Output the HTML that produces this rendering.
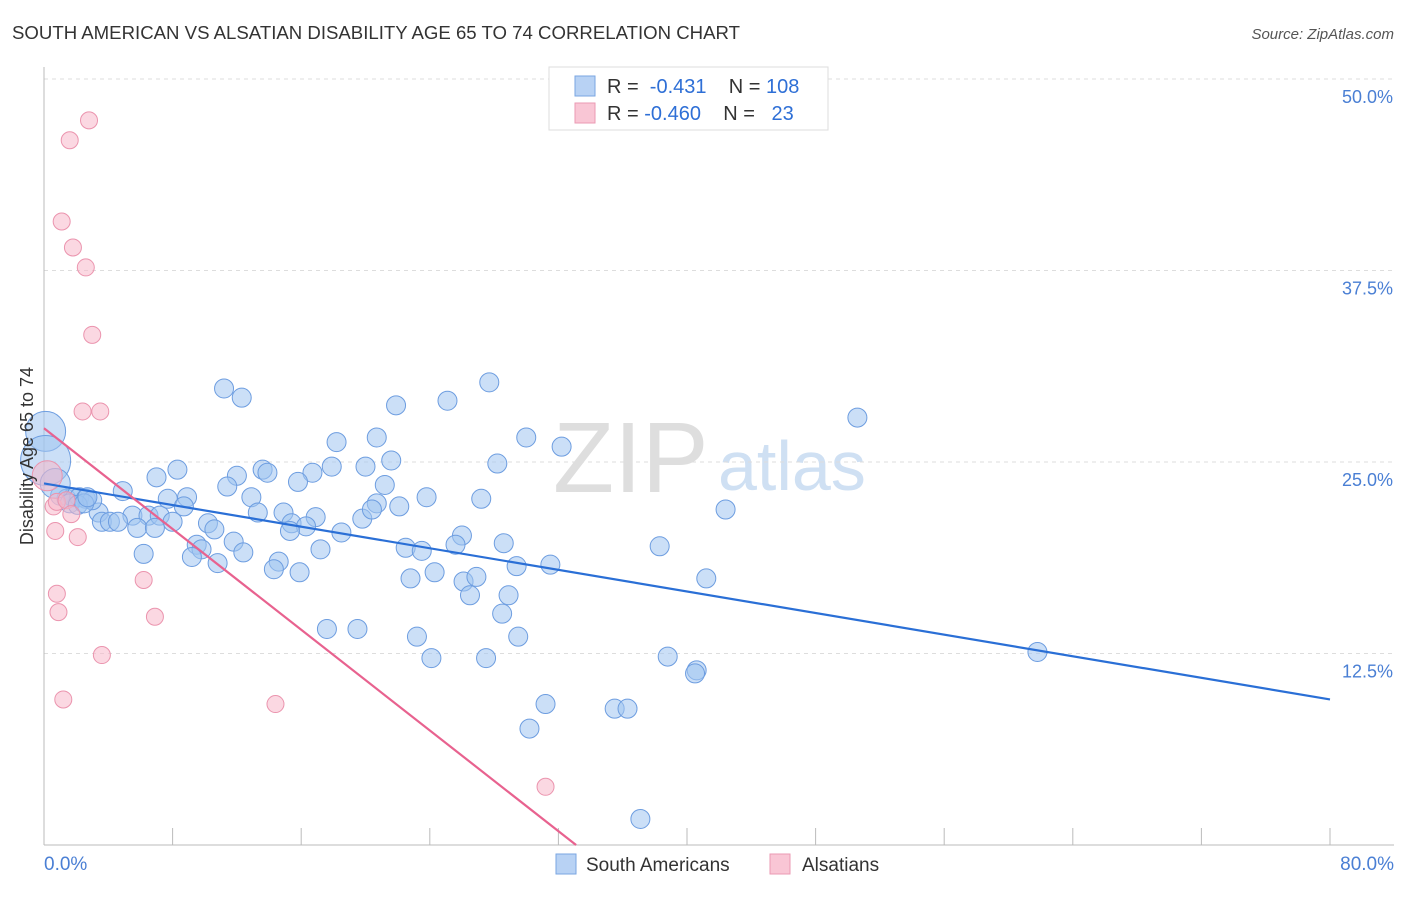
<!DOCTYPE html>
<html><head><meta charset="utf-8"><style>
body{margin:0;background:#fff;font-family:"Liberation Sans",sans-serif}
svg text{font-family:"Liberation Sans",sans-serif}
</style></head><body>
<svg id="chart" width="1406" height="892">
<text x="12" y="39" font-size="18" fill="#333" textLength="728" lengthAdjust="spacingAndGlyphs">SOUTH AMERICAN VS ALSATIAN DISABILITY AGE 65 TO 74 CORRELATION CHART</text>
<text x="1394" y="39" font-size="15" fill="#555" text-anchor="end" font-style="italic">Source: ZipAtlas.com</text>
<g>
<text x="553" y="492" font-size="100" fill="#dedede" font-family="Liberation Serif">ZIP</text>
<text x="718" y="490" font-size="70" fill="#cfe0f3">atlas</text>
</g>
<g id="grid"></g><g id="axes"></g><g id="pts"></g><g id="lines"></g>
<text transform="translate(33,456) rotate(-90)" font-size="18" fill="#333" text-anchor="middle">Disability Age 65 to 74</text>
<g>
<rect x="549" y="67" width="279" height="63" fill="#fff" stroke="#ddd"/>
<rect x="575" y="76" width="20" height="20" fill="#b8d2f4" stroke="#7aa6e2"/>
<rect x="575" y="103" width="20" height="20" fill="#f9c6d5" stroke="#eb9ab3"/>
<text x="607" y="93" font-size="20" fill="#333">R = <tspan fill="#2e6fd6">&#160;-0.431</tspan>&#160;&#160;&#160; N = <tspan fill="#2e6fd6">108</tspan></text>
<text x="607" y="120" font-size="20" fill="#333">R = <tspan fill="#2e6fd6">-0.460</tspan>&#160;&#160;&#160; N = <tspan fill="#2e6fd6">&#160;&#160;23</tspan></text>
</g>
<g>
<rect x="556" y="854" width="20" height="20" fill="#b8d2f4" stroke="#7aa6e2"/>
<text x="586" y="871" font-size="19" fill="#333">South Americans</text>
<rect x="770" y="854" width="20" height="20" fill="#f9c6d5" stroke="#eb9ab3"/>
<text x="802" y="871" font-size="19" fill="#333">Alsatians</text>
</g>
</svg>
<script>
const blueX=[11.2,12.3,27.7,21.9,25.1,50.6,18.2,20.7,30.0,32.2,21.6,28.2,17.9,20.0,13.6,13.9,8.3,7.0,12.0,16.7,4.9,11.4,15.8,21.2,7.7,8.9,12.9,23.8,27.2,20.7,22.1,42.4,8.7,3.4,13.3,14.9,16.9,19.8,20.4,5.5,6.5,7.2,3.6,4.1,4.6,8.0,5.8,6.9,10.2,10.6,15.4,16.3,15.3,18.5,26.0,25.6,11.8,9.5,9.8,17.2,22.5,23.5,28.6,38.3,6.2,12.4,9.2,10.8,14.6,14.3,15.9,29.4,31.5,22.8,24.3,26.1,26.9,41.2,26.5,28.9,28.5,17.6,19.5,23.2,29.5,61.8,24.1,27.5,38.8,40.6,40.5,31.2,35.5,36.3,30.2,37.1,1.0,1.4,1.8,2.2,2.6,3.0,1.6,2.1,2.5,2.7,0.1,0.1,0.7];
const blueY=[29.8,29.2,30.2,28.7,29.0,27.9,26.3,26.6,26.6,26.0,25.1,24.9,24.7,24.7,24.5,24.3,24.5,24.0,24.1,24.3,23.1,23.4,23.7,23.5,22.6,22.7,22.7,22.7,22.6,22.3,22.1,21.9,22.1,21.7,21.7,21.7,21.4,21.3,21.9,21.5,21.5,21.5,21.1,21.1,21.1,21.1,20.7,20.7,21.0,20.6,21.0,20.8,20.5,20.4,20.2,19.6,19.8,19.6,19.3,19.3,19.4,19.2,19.7,19.5,19.0,19.1,18.8,18.4,18.5,18.0,17.8,18.2,18.3,17.4,17.8,17.2,17.5,17.4,16.3,16.3,15.1,14.1,14.1,13.6,13.6,12.6,12.2,12.2,12.3,11.4,11.2,9.2,8.9,8.9,7.6,1.7,22.8,22.6,22.7,22.7,22.6,22.5,22.3,22.2,22.3,22.7,27.0,25.1,23.6];
const blueR=[];for(let i=0;i<blueX.length;i++)blueR.push(9.5);blueR[106]=20;blueR[107]=25;blueR[108]=15;
const pinkX=[2.8,1.6,1.1,1.8,2.6,3.0,2.4,3.5,0.2,0.6,0.8,1.4,1.7,0.7,2.1,0.8,0.9,6.2,6.9,3.6,1.2,14.4,31.2];
const pinkY=[47.3,46.0,40.7,39.0,37.7,33.3,28.3,28.3,24.1,22.1,22.4,22.5,21.6,20.5,20.1,16.4,15.2,17.3,14.9,12.4,9.5,9.2,3.8];
const pinkR=[];for(let i=0;i<pinkX.length;i++)pinkR.push(8.5);pinkR[8]=15;
const blueTrend=[23.6,9.5];
const pinkTrend=[27.2,0];const pinkTrendEndX=33.1;
const yTicks=[12.5,25.0,37.5,50.0];
const yTickLabels=["12.5%","25.0%","37.5%","50.0%"];
const xTickValues=[0,8,16,24,32,40,48,56,64,72,80];
const xTickLabels=["0.0%","80.0%"];
const NS="http://www.w3.org/2000/svg";
const sx=v=>44+v*16.075, sy=v=>845-v*15.32;
function mk(t,a,p){const e=document.createElementNS(NS,t);for(const k in a)e.setAttribute(k,a[k]);p.appendChild(e);return e;}
const grid=document.getElementById('grid'),axes=document.getElementById('axes'),pts=document.getElementById('pts'),lines=document.getElementById('lines');
yTicks.forEach((v,i)=>{
 const l=mk('line',{x1:44,x2:1394,y1:sy(v),y2:sy(v),stroke:'#ddd','stroke-dasharray':'4,4'},grid);
 
 
 const t=mk('text',{x:1393,y:sy(v)+24,'font-size':18,fill:'#4a7fd4','text-anchor':'end'},grid);
 t.textContent=yTickLabels[i];
 
 
});
const xl=mk('line',{x1:44,x2:1394,y1:845,y2:845,stroke:'#bbb'},axes);


const yl=mk('line',{x1:44,x2:44,y1:67,y2:845,stroke:'#bbb'},axes);


xTickValues.forEach(v=>{
 const l=mk('line',{x1:sx(v),x2:sx(v),y1:828,y2:845,stroke:'#bbb'},axes);
 
 
});
const t0=mk('text',{x:44,y:870,'font-size':19,fill:'#4a7fd4'},axes);t0.textContent=xTickLabels[0];


const t1=mk('text',{x:1394,y:870,'font-size':19,fill:'#4a7fd4','text-anchor':'end'},axes);t1.textContent=xTickLabels[1];


blueX.forEach((v,i)=>{
 const c=mk('circle',{cx:sx(v),cy:sy(blueY[i]),r:blueR[i],fill:'rgba(160,196,240,0.55)',stroke:'#6d9de0','stroke-width':1},pts);
 
 
});
pinkX.forEach((v,i)=>{
 const c=mk('circle',{cx:sx(v),cy:sy(pinkY[i]),r:pinkR[i],fill:'rgba(247,184,203,0.55)',stroke:'#eb94ae','stroke-width':1},pts);
 
 
});
const bl=mk('line',{x1:sx(0),y1:sy(blueTrend[0]),x2:sx(80),y2:sy(blueTrend[1]),stroke:'#2a6fd6','stroke-width':2.2},lines);


const pl=mk('line',{x1:sx(0),y1:sy(pinkTrend[0]),x2:sx(pinkTrendEndX),y2:sy(pinkTrend[1]),stroke:'#e8628f','stroke-width':2.2},lines);


</script>
</body></html>
